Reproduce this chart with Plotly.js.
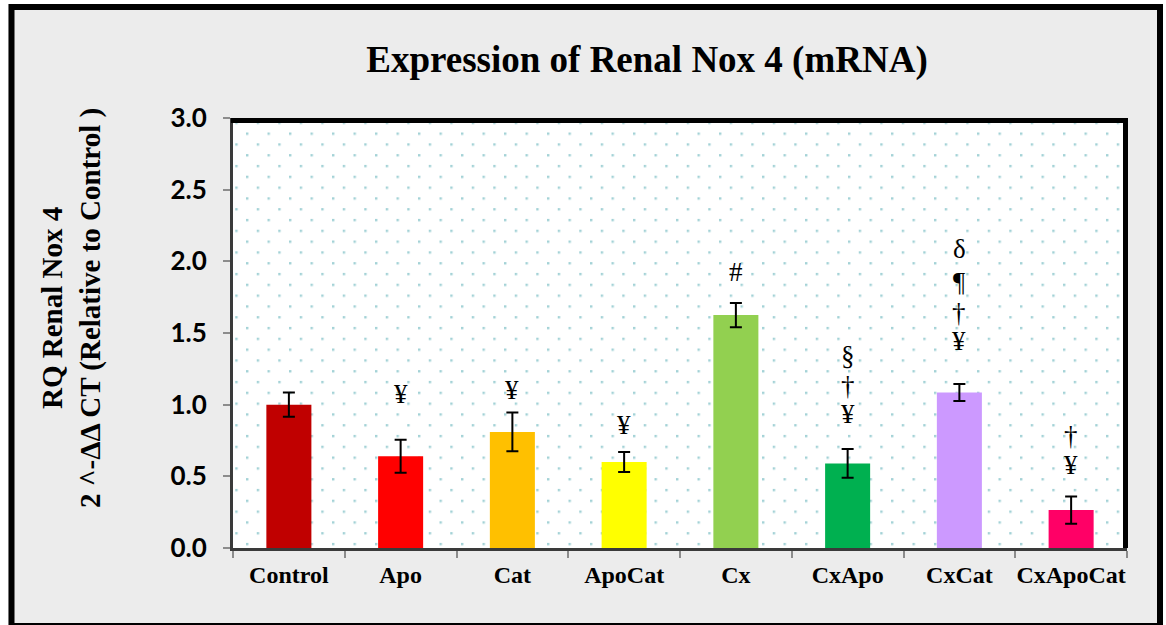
<!DOCTYPE html>
<html>
<head>
<meta charset="utf-8">
<script src="https://cdn.plot.ly/plotly-3.0.1.min.js"></script>
<style>
  html, body { margin: 0; padding: 0; background: #ffffff; }
  #chart { width: 1166px; height: 625px; }
</style>
</head>
<body>
<div id="chart"></div>
<script>
// ---- data ----
const categories = ['Control', 'Apo', 'Cat', 'ApoCat', 'Cx', 'CxApo', 'CxCat', 'CxApoCat'];
const meanValues = [1.00, 0.64, 0.81, 0.60, 1.625, 0.59, 1.085, 0.265];
const errorValues = [0.085, 0.115, 0.135, 0.07, 0.085, 0.10, 0.06, 0.095];
const barColors = ['#C00000', '#FF0000', '#FFC000', '#FFFF00', '#92D050', '#00B050', '#CC99FF', '#FF0066'];
const yTickValues = [0, 0.5, 1.0, 1.5, 2.0, 2.5, 3.0];
const yTickLabels = ['0.0', '0.5', '1.0', '1.5', '2.0', '2.5', '3.0'];
const sigSymbols = [[], ['¥'], ['¥'], ['¥'], ['#'], ['§', '†', '¥'], ['δ', '¶', '†', '¥'], ['†', '¥']];
const sigHeights = [[], [1.075], [1.10], [0.857], [1.923], [1.337, 1.127, 0.932], [2.087, 1.858, 1.643, 1.444], [0.78, 0.58]];
const chartTitle = 'Expression of Renal Nox 4 (mRNA)';
const yTitleLines = ['RQ Renal Nox 4', '2 ^-ΔΔ CT (Relative to Control )'];

// ---- layout geometry (pixels) ----
const W = 1166, H = 625;
const M = { l: 233, r: 39, t: 118, b: 77 };
const PW = W - M.l - M.r, PH = H - M.t - M.b;
const px = X => (X - M.l) / PW;
const py = Y => (H - M.b - Y) / PH;

// dotted background pattern for the plot area
const svg =
  '<svg xmlns="http://www.w3.org/2000/svg" width="' + PW + '" height="' + PH + '">' +
  '<defs><pattern id="p" x="13" y="14.5" width="21.5" height="21.6" patternUnits="userSpaceOnUse">' +
  '<rect x="0" y="0" width="2.4" height="2.4" fill="#a3d2d6"/>' +
  '<rect x="10.75" y="10.8" width="2.4" height="2.4" fill="#a3d2d6"/>' +
  '</pattern></defs>' +
  '<rect width="100%" height="100%" fill="#ffffff"/>' +
  '<rect width="100%" height="100%" fill="url(#p)"/></svg>';
const bgImage = 'data:image/svg+xml;charset=utf-8,' + encodeURIComponent(svg);

const serif = '"Liberation Serif", "Times New Roman", serif';

const trace = {
  type: 'bar',
  x: categories,
  y: meanValues,
  marker: { color: barColors, line: { width: 0 } },
  error_y: { type: 'data', array: errorValues, visible: true, color: '#000000', thickness: 2, width: 6 },
  hoverinfo: 'none'
};

const annotations = [];
sigSymbols.forEach((syms, i) => {
  syms.forEach((s, j) => {
    annotations.push({
      x: categories[i], y: sigHeights[i][j], xref: 'x', yref: 'y',
      text: s, showarrow: false, xanchor: 'center', yanchor: 'middle',
      font: { family: serif, size: 27, color: '#000000' }
    });
  });
});
annotations.push({
  xref: 'paper', yref: 'paper', x: px(71), y: py(308),
  text: '<b>' + yTitleLines[0] + '</b><br><b>' + yTitleLines[1] + '</b>',
  textangle: -90, showarrow: false, xanchor: 'center', yanchor: 'middle',
  font: { family: serif, size: 29, color: '#000000' }
});

const shapes = [
  // white outside strip + gray panel frame
  {
    type: 'path', xref: 'paper', yref: 'paper', layer: 'below',
    path: 'M ' + px(0) + ' ' + py(0) + ' L ' + px(W) + ' ' + py(0) + ' L ' + px(W) + ' ' + py(H + 5) +
          ' L ' + px(0) + ' ' + py(H + 5) + ' Z ' +
          'M ' + px(8) + ' ' + py(4) + ' L ' + px(1163) + ' ' + py(4) + ' L ' + px(1163) + ' ' + py(H + 2) +
          ' L ' + px(8) + ' ' + py(H + 2) + ' Z',
    fillrule: 'evenodd', fillcolor: '#ffffff', line: { width: 0 }
  },
  {
    type: 'rect', xref: 'paper', yref: 'paper', layer: 'above',
    x0: px(11.5), x1: px(1160), y0: py(7), y1: py(H + 1),
    line: { color: '#000000', width: 6 }, fillcolor: 'rgba(0,0,0,0)'
  },
  // plot frame: top & right heavy black
  {
    type: 'path', xref: 'paper', yref: 'paper', layer: 'above',
    path: 'M ' + px(231) + ' ' + py(120.5) + ' L ' + px(1125.5) + ' ' + py(120.5) + ' L ' + px(1125.5) + ' ' + py(548),
    line: { color: '#000000', width: 5 }
  }
];

const layout = {
  width: W, height: H,
  margin: M,
  paper_bgcolor: '#ececec',
  plot_bgcolor: '#ffffff',
  showlegend: false,
  bargap: 0.597,
  title: {
    text: '<b>' + chartTitle + '</b>',
    xref: 'container', yref: 'container', x: 647 / W, y: 1 - 59 / H,
    xanchor: 'center', yanchor: 'middle',
    font: { family: serif, size: 37, color: '#000000' }
  },
  xaxis: {
    type: 'category', range: [-0.5, 7.5],
    showgrid: false, zeroline: false,
    showline: true, linecolor: '#3a3a3a', linewidth: 3,
    ticks: 'outside', tickson: 'boundaries', ticklen: 7, tickwidth: 2, tickcolor: '#8c8c8c',
    tickangle: 0, automargin: false,
    ticklabelstandoff: 3,
    tickfont: { family: serif, size: 24, color: '#000000', weight: 'bold' }
  },
  yaxis: {
    range: [0, 3], tickmode: 'array', tickvals: yTickValues, ticktext: yTickLabels,
    showgrid: false, zeroline: false,
    showline: true, linecolor: '#3a3a3a', linewidth: 3,
    ticks: 'outside', ticklen: 7, tickwidth: 2, tickcolor: '#8c8c8c',
    automargin: false,
    ticklabelstandoff: 11,
    tickfont: { family: 'Lato, "Open Sans", sans-serif', size: 26, color: '#000000', weight: 'bold' }
  },
  images: [{
    source: bgImage, xref: 'paper', yref: 'paper', x: 0, y: 1, sizex: 1, sizey: 1,
    xanchor: 'left', yanchor: 'top', sizing: 'stretch', layer: 'below'
  }],
  shapes: shapes,
  annotations: annotations
};

Plotly.newPlot('chart', [trace], layout, { staticPlot: true, displayModeBar: false });
</script>
</body>
</html>
